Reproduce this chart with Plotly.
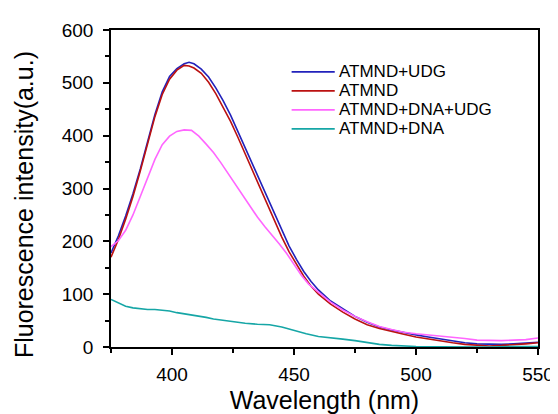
import plotly.graph_objects as go

# ---- data ----
wl_blue = [375,378,381,384,387,390,393,396,399,402,405,407,409,412,415,418,421,424,427,430,433,436,439,442,445,448,451,454,457,460,465,470,475,480,485,490,495,500,505,510,515,520,525,530,535,540,545,550]
atmnd_udg = [178,210,248,290,337,390,440,483,512,527,536,539,536,526,511,490,466,439,408,376,344,312,281,250,220,191,166,143,124,108,87,72,58,47,38,32,27,23,19,15,11,8,6,5,5,6,8,9]

wl_red = wl_blue
atmnd = [170,203,242,285,333,386,436,478,507,524,533,532,528,518,501,479,454,427,397,365,333,301,269,238,208,180,156,134,115,100,81,66,53,42,35,29,24,19,15,11,8,5,3,2,3,4,6,8]

wl_pink = [375,378,381,384,387,390,393,396,399,402,405,408,411,414,417,420,423,426,429,432,435,438,441,444,447,450,453,456,460,465,470,475,480,485,490,495,500,505,510,515,520,525,530,535,540,545,550]
atmnd_dna_udg = [190,201,221,250,285,320,355,383,399,408,411,410,399,384,368,349,328,307,286,265,246,228,212,195,177,156,136,119,104,85,70,58,48,39,33,28,25,23,21,19,16,13,12,12,13,14,17]

wl_teal = [375,378,381,384,387,390,393,396,399,402,405,408,411,414,417,420,423,426,430,435,440,445,450,455,460,465,470,475,480,485,490,495,500,510,520,530,540,550]
atmnd_dna = [90,83,77,74,72,71,71,70,68,65,63,61,58,56,53,51,49,47,45,43,42,38,31,25,20,18,15,12,8,5,3,2,1,0.5,0,0,1,1]

names = ["ATMND+UDG", "ATMND", "ATMND+DNA+UDG", "ATMND+DNA"]
colors = ["#2222bb", "#bb1111", "#ff66ff", "#16a6a6"]
xs = [wl_blue, wl_red, wl_pink, wl_teal]
ys = [atmnd_udg, atmnd, atmnd_dna_udg, atmnd_dna]

fig = go.Figure()
for x, y, n, c in zip(xs, ys, names, colors):
    fig.add_trace(go.Scatter(x=x, y=y, mode="lines", name=n,
                             line=dict(color=c, width=1.6), showlegend=False))

# manual legend (Origin-style compact rows)
leg_y = [0.868, 0.808, 0.748, 0.688]
for n, c, yy in zip(names, colors, leg_y):
    fig.add_shape(type="line", xref="paper", yref="paper",
                  x0=0.423, x1=0.524, y0=yy, y1=yy,
                  line=dict(color=c, width=1.6))
    fig.add_annotation(xref="paper", yref="paper", x=0.530, y=yy,
                       text=n, showarrow=False, xanchor="left", yanchor="middle",
                       font=dict(size=17, color="black", family="Liberation Sans, Arial"))

# y-axis title (placed like the reference, slightly below centre)
fig.add_annotation(xref="paper", yref="paper", x=-0.202, y=0.45,
                   text="Fluorescence intensity(a.u.)", textangle=-90, showarrow=False,
                   xanchor="center", yanchor="middle",
                   font=dict(size=25, color="black", family="Liberation Sans, Arial"))

axis_common = dict(
    showline=True, linecolor="black", linewidth=1.5, mirror=True,
    ticks="outside", ticklen=6, tickwidth=1.5, tickcolor="black",
    showgrid=False, zeroline=False,
    tickfont=dict(size=19, color="black", family="Liberation Sans, Arial"),
)

fig.update_layout(
    width=558, height=414,
    margin=dict(l=103, r=18, t=22, b=67),
    paper_bgcolor="white", plot_bgcolor="white",
    font=dict(family="Liberation Sans, Arial", color="black"),
    xaxis=dict(range=[375, 550], dtick=50, tick0=400, ticklabelstandoff=3,
               minor=dict(dtick=25, ticks="outside", ticklen=4, tickwidth=1.5, tickcolor="black"),
               title=dict(text="Wavelength (nm)", font=dict(size=25), standoff=8),
               **axis_common),
    yaxis=dict(range=[0, 600], dtick=100, ticklabelstandoff=6,
               minor=dict(dtick=50, ticks="outside", ticklen=4, tickwidth=1.5, tickcolor="black"),
               **axis_common),
)

fig.write_html("out.html")
